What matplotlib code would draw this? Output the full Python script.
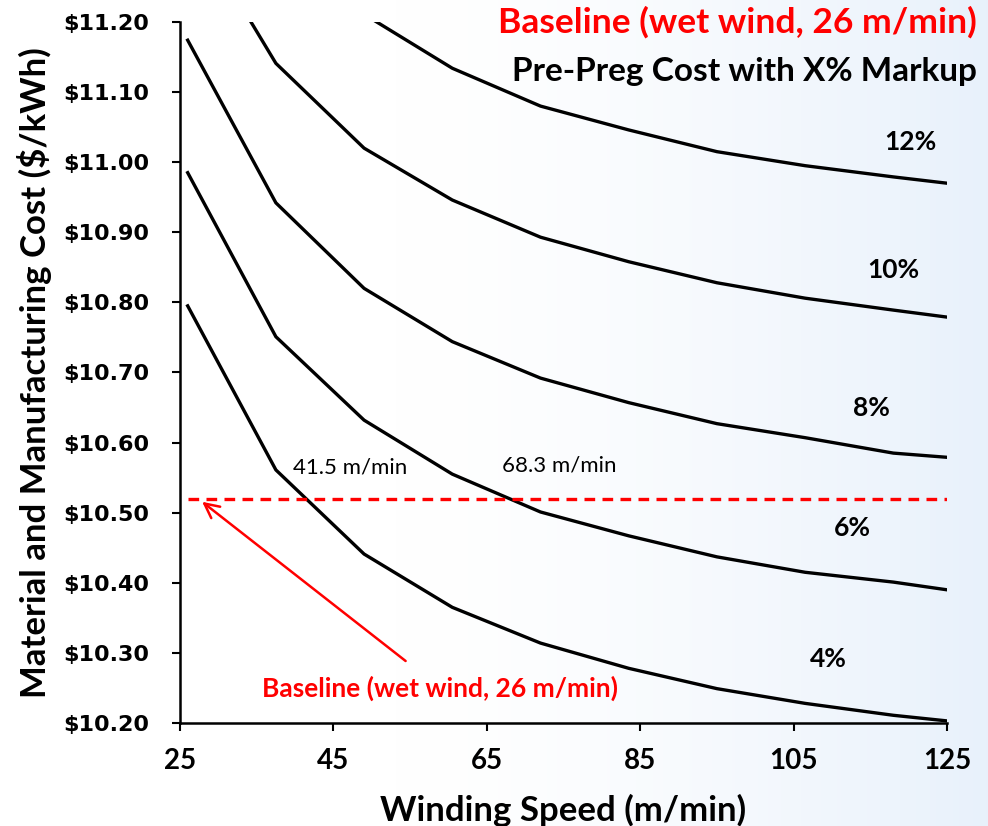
import matplotlib.pyplot as plt
import numpy as np

# winding speed (m/min) and cost ($/kWh) for each pre-preg markup
speeds = [26, 37.5, 49, 60.5, 72, 83.5, 95, 106.5, 118, 125]
cost_4 = [10.795, 10.561, 10.441, 10.365, 10.314, 10.278, 10.249, 10.228, 10.211, 10.203]
cost_6 = [10.985, 10.751, 10.632, 10.555, 10.501, 10.467, 10.437, 10.415, 10.401, 10.390]
cost_8 = [11.174, 10.942, 10.820, 10.744, 10.692, 10.657, 10.627, 10.607, 10.585, 10.579]
cost_10 = [11.35, 11.141, 11.020, 10.946, 10.893, 10.858, 10.828, 10.806, 10.789, 10.779]
cost_12 = [11.54, 11.33, 11.211, 11.134, 11.080, 11.046, 11.015, 10.995, 10.979, 10.970]
curves = [cost_4, cost_6, cost_8, cost_10, cost_12]
markups = ["4%", "6%", "8%", "10%", "12%"]
label_pos = [(109.5, 10.291), (112.6, 10.478), (115.1, 10.649), (118.0, 10.846), (120.2, 11.029)]

baseline_cost = 10.52
baseline_speed = 26
crossings = ["41.5 m/min", "68.3 m/min"]

xticks = [25, 45, 65, 85, 105, 125]
yticks = [10.2, 10.3, 10.4, 10.5, 10.6, 10.7, 10.8, 10.9, 11.0, 11.1, 11.2]

sans = ["Lato", "DejaVu Sans"]

fig = plt.figure(figsize=(9.88, 8.26), dpi=100)

# soft white -> pale blue background
bg = fig.add_axes([0, 0, 1, 1], zorder=-5)
gx = np.linspace(0, 1, 300)
grad = np.clip((gx - 0.4) / 0.6, 0, 1) ** 1.5
img = np.ones((2, 300, 3))
c0 = np.array([1.0, 1.0, 1.0])
c1 = np.array([0.91, 0.945, 0.985])
for i in range(3):
    img[:, :, i] = c0[i] + (c1[i] - c0[i]) * grad
bg.imshow(img, aspect="auto", extent=[0, 1, 0, 1])
bg.axis("off")

ax = fig.add_axes([0.1822, 0.1247, 0.7763, 0.8487])
ax.patch.set_alpha(0)

for c in curves:
    ax.plot(speeds, c, color="black", lw=2.4, solid_joinstyle="miter")

ax.plot([baseline_speed, 125], [baseline_cost, baseline_cost], color="#ff0000",
        lw=2.4, ls=(0, (3.2, 2.2)))

for (lx, ly), m in zip(label_pos, markups):
    ax.text(lx, ly, m, ha="center", va="center", fontsize=19, fontweight="bold",
            family=sans)

ax.text(47.2, 10.564, crossings[0], ha="center", va="center", fontsize=16, family=sans)
ax.text(74.5, 10.568, crossings[1], ha="center", va="center", fontsize=16, family=sans)

ax.annotate("", xy=(27.6, 10.518), xytext=(54.7, 10.286),
            arrowprops=dict(arrowstyle="->", color="#ff0000", lw=1.8,
                            mutation_scale=26))
ax.text(58.9, 10.250, "Baseline (wet wind, 26 m/min)", ha="center", va="center",
        fontsize=19, fontweight="bold", color="#ff0000", family=sans)

ax.set_xlim(25, 125)
ax.set_ylim(10.2, 11.2)
ax.set_xticks(xticks)
ax.set_yticks(yticks)
ax.set_xticklabels([str(t) for t in xticks], fontsize=20, fontweight="bold", family=sans)
ax.set_yticklabels(["$%.2f" % t for t in yticks], fontsize=16, fontweight="bold",
                   family="DejaVu Sans")
ax.tick_params(direction="out", length=6, width=1.5, colors="black")
ax.tick_params(axis="y", pad=16)
ax.tick_params(axis="x", pad=12)
for s in ["top", "right"]:
    ax.spines[s].set_visible(False)
for s in ["left", "bottom"]:
    ax.spines[s].set_linewidth(1.8)

ax.set_xlabel("Winding Speed (m/min)", fontsize=25, fontweight="bold", family=sans,
              labelpad=14)
ax.set_ylabel("Material and Manufacturing Cost ($/kWh)", fontsize=25, fontweight="bold",
              family=sans, labelpad=8)

fig.text(0.989, 0.973, "Baseline (wet wind, 26 m/min)", ha="right", va="center",
         fontsize=25.5, fontweight="bold", color="#ff0000", family=sans)
fig.text(0.989, 0.913, "Pre-Preg Cost with X% Markup", ha="right", va="center",
         fontsize=24, fontweight="bold", color="black", family=sans)

fig.savefig("out.png", dpi=100)
